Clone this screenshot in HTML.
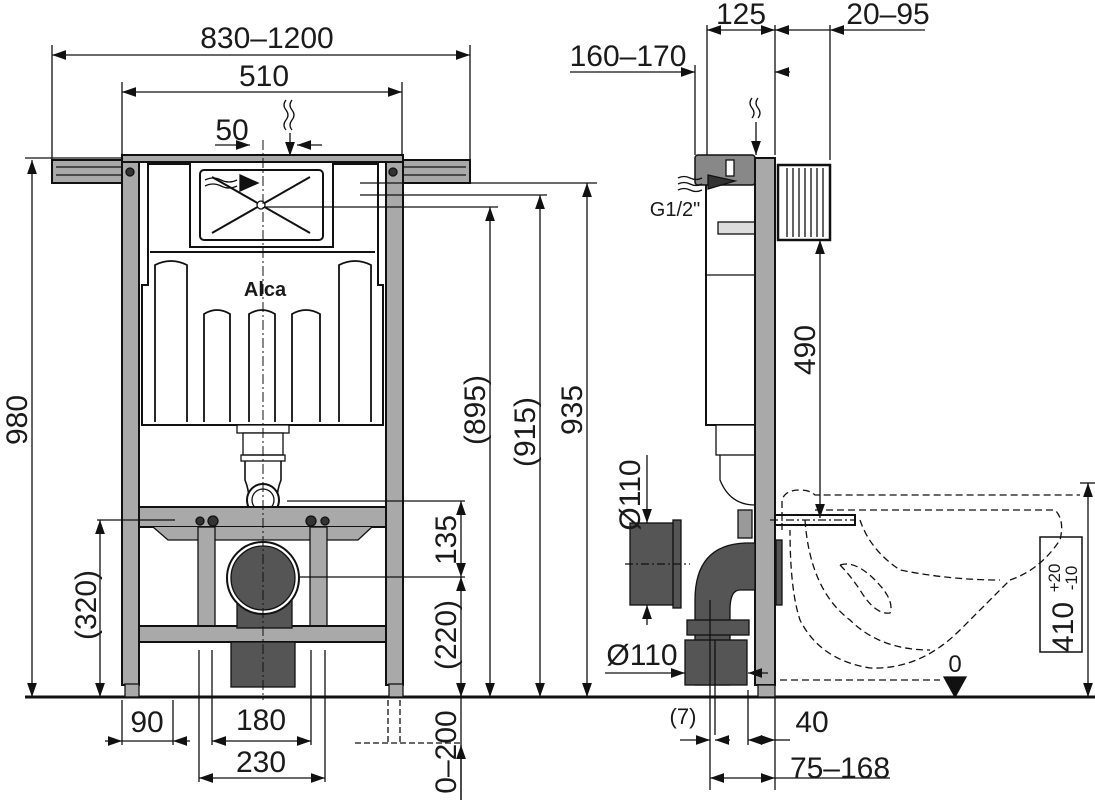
<!DOCTYPE html>
<html><head><meta charset="utf-8"><style>
html,body{margin:0;padding:0;background:#fff;}
svg{display:block}
text{font-family:"Liberation Sans Narrow","Liberation Sans",sans-serif;font-size:30px;fill:#1a1a1a}
</style></head><body>
<svg width="1095" height="800" viewBox="0 0 1095 800" xmlns="http://www.w3.org/2000/svg">
<defs>
<marker id="a" viewBox="0 0 10 10" refX="10" refY="5" markerWidth="14" markerHeight="14" markerUnits="userSpaceOnUse" orient="auto-start-reverse"><path d="M0,1.5 L10,5 L0,8.5 Z" fill="#111"/></marker>
</defs>
<g stroke="#111" stroke-width="1.3" fill="none">
<line x1="25" y1="697" x2="1095" y2="697" stroke-width="3"/>

<rect x="52" y="160" width="70" height="23" fill="#a9a9a9" stroke-width="2"/>
<line x1="56" y1="167" x2="122" y2="167"/><line x1="56" y1="175" x2="122" y2="175"/>
<rect x="402" y="160" width="68" height="23" fill="#a9a9a9" stroke-width="2"/>
<line x1="402" y1="167" x2="466" y2="167"/><line x1="402" y1="175" x2="466" y2="175"/>
<rect x="122" y="157" width="17" height="528" fill="#a9a9a9" stroke-width="2"/>
<rect x="386" y="157" width="17" height="528" fill="#a9a9a9" stroke-width="2"/>
<rect x="122" y="155" width="281" height="7" fill="#a9a9a9" stroke-width="2"/>
<rect x="125" y="684" width="14" height="13" fill="#a9a9a9"/>
<rect x="389" y="684" width="14" height="13" fill="#a9a9a9"/>
<circle cx="130" cy="172" r="4" fill="#333"/><circle cx="393" cy="172" r="4" fill="#333"/>
<path d="M148,164 L378,164 L378,285 L383,285 L383,425 L142,425 L142,285 L148,285 Z" fill="#fff" stroke-width="2"/>
<rect x="190" y="162" width="143" height="85" fill="#fff" stroke-width="2"/>
<rect x="200" y="170" width="123" height="70" rx="4" stroke-width="2"/>
<line x1="212" y1="233" x2="310" y2="177" stroke-width="2"/>
<line x1="212" y1="177" x2="310" y2="233" stroke-width="2"/>
<circle cx="261" cy="205" r="4" fill="#fff"/>
<path d="M240,175 L258,183 L240,191 Z" fill="#111"/>
<path d="M205,180 q8,-4 16,0 q8,4 16,0 M205,186 q8,-4 16,0 q8,4 16,0"/>
<line x1="150" y1="252" x2="375" y2="252" stroke-width="2"/>
<path d="M155,422 V265 q16,-8 32,0 V422 M204,422 V314 q13,-8 26,0 V422 M249,422 V314 q13,-8 26,0 V422 M292,422 V314 q14,-8 28,0 V422 M339,422 V265 q16,-8 32,0 V422" stroke-width="1.8"/>
<rect x="237" y="425" width="52" height="8" fill="#fff"/>
<rect x="243" y="433" width="40" height="22" fill="#fff"/>
<rect x="241" y="455" width="44" height="6"/>
<path d="M245,461 V480 Q249,490 249,500 M281,461 V480 Q277,490 277,500" stroke-width="1.6"/>
<circle cx="263" cy="500" r="16" fill="#fff" stroke-width="2"/>
<circle cx="263" cy="500" r="11"/>
<rect x="139" y="507" width="247" height="20" fill="#a9a9a9" stroke-width="2"/>
<path d="M153,527 L168,540 L358,540 L372,527" fill="#a9a9a9"/>
<rect x="198" y="527" width="17" height="100" fill="#a9a9a9"/>
<rect x="310" y="527" width="17" height="100" fill="#a9a9a9"/>
<rect x="139" y="626" width="247" height="16" fill="#a9a9a9" stroke-width="2"/>
<rect x="231" y="642" width="64" height="45" fill="#555"/>
<rect x="237" y="578" width="55" height="50" fill="#555"/>
<circle cx="263" cy="578" r="36" fill="#fff" stroke-width="2"/>
<circle cx="263" cy="578" r="32" fill="#555"/>
<circle cx="200" cy="521" r="4" fill="#333"/><circle cx="213" cy="521" r="5" fill="#333"/>
<circle cx="311" cy="521" r="5" fill="#333"/><circle cx="325" cy="521" r="4" fill="#333"/>
<line x1="263" y1="140" x2="263" y2="700" stroke-dasharray="10,3,2,3" stroke-width="1"/>
<line x1="52" y1="45" x2="52" y2="160"/><line x1="470" y1="45" x2="470" y2="160"/>
<line x1="52" y1="55" x2="470" y2="55" marker-start="url(#a)" marker-end="url(#a)"/>
<line x1="122" y1="82" x2="122" y2="155"/><line x1="402" y1="82" x2="402" y2="155"/>
<line x1="122" y1="92" x2="402" y2="92" marker-start="url(#a)" marker-end="url(#a)"/>
<line x1="215" y1="145" x2="250" y2="145" marker-end="url(#a)"/>
<line x1="322" y1="145" x2="297" y2="145" marker-end="url(#a)"/>
<path d="M286,100 q-4,5 0,10 q4,5 0,10 q-4,5 0,10 M292,100 q-4,5 0,10 q4,5 0,10 q-4,5 0,10"/>
<line x1="290" y1="133" x2="290" y2="156" marker-end="url(#a)"/>
<line x1="25" y1="158" x2="122" y2="158"/>
<line x1="32" y1="160" x2="32" y2="697" marker-start="url(#a)" marker-end="url(#a)"/>
<line x1="360" y1="183" x2="597" y2="183"/><line x1="360" y1="195" x2="547" y2="195"/><line x1="265" y1="207" x2="498" y2="207"/>
<line x1="490" y1="207" x2="490" y2="697" marker-start="url(#a)" marker-end="url(#a)"/>
<line x1="540" y1="195" x2="540" y2="697" marker-start="url(#a)" marker-end="url(#a)"/>
<line x1="587" y1="183" x2="587" y2="697" marker-start="url(#a)" marker-end="url(#a)"/>
<line x1="97" y1="520" x2="175" y2="520"/>
<line x1="100" y1="520" x2="100" y2="697" marker-start="url(#a)" marker-end="url(#a)"/>
<line x1="287" y1="501" x2="465" y2="501"/><line x1="300" y1="577" x2="465" y2="577"/>
<line x1="461" y1="501" x2="461" y2="577" marker-start="url(#a)" marker-end="url(#a)"/>
<line x1="461" y1="577" x2="461" y2="697" marker-start="url(#a)" marker-end="url(#a)"/>
<line x1="461" y1="697" x2="461" y2="800"/>
<line x1="461" y1="745" x2="461" y2="800" marker-start="url(#a)"/>
<path d="M388,700 V743 M400,700 V743 M355,743 H462" stroke-dasharray="6,3"/>
<line x1="122" y1="700" x2="122" y2="745"/><line x1="173" y1="700" x2="173" y2="745"/>
<line x1="105" y1="741" x2="122" y2="741" marker-end="url(#a)"/><line x1="190" y1="741" x2="173" y2="741" marker-end="url(#a)"/>
<line x1="122" y1="741" x2="173" y2="741"/>
<line x1="212" y1="650" x2="212" y2="745"/><line x1="311" y1="650" x2="311" y2="745"/>
<line x1="212" y1="741" x2="311" y2="741" marker-start="url(#a)" marker-end="url(#a)"/>
<line x1="199" y1="650" x2="199" y2="782"/><line x1="325" y1="650" x2="325" y2="782"/>
<line x1="199" y1="778" x2="325" y2="778" marker-start="url(#a)" marker-end="url(#a)"/>

<rect x="778" y="165" width="52" height="75" fill="#fff" stroke-width="2.5"/>
<path d="M787,168 V237 M793,168 V237 M799,168 V237 M805,168 V237 M811,168 V237 M817,168 V237 M823,168 V237"/>
<rect x="706" y="180" width="49" height="245" fill="#fff" stroke-width="2"/>
<line x1="706" y1="275" x2="755" y2="275"/>
<rect x="695" y="155" width="60" height="30" rx="3" fill="#888" stroke-width="1.5"/>
<rect x="726" y="160" width="8" height="16" fill="#fff"/>
<path d="M708,175 L735,181 L708,189 Z" fill="#333"/>
<path d="M678,178 q6,-3 12,0 q6,3 12,0 M678,184 q6,-3 12,0 q6,3 12,0 M678,190 q6,-3 12,0 q6,3 12,0"/>
<rect x="718" y="222" width="37" height="12" fill="#ddd"/>
<rect x="716" y="425" width="39" height="30" fill="#fff"/>
<path d="M720,455 V480 Q730,505 755,505"/>
<rect x="755" y="158" width="20" height="527" fill="#a9a9a9" stroke-width="2"/>
<rect x="758" y="685" width="17" height="12" fill="#a9a9a9"/>
<rect x="775" y="515" width="80" height="10" fill="#fff" stroke-width="2"/>
<line x1="770" y1="520" x2="855" y2="520" stroke-dasharray="8,3,2,3"/>
<path d="M695,685 V600 Q695,545 745,543 L755,543 V590 L740,590 Q730,590 730,610 V685 Z" fill="#555"/>
<rect x="687" y="620" width="62" height="15" fill="#555"/>
<rect x="685" y="640" width="62" height="45" fill="#555"/>
<rect x="630" y="523" width="45" height="82" fill="#555"/>
<rect x="673" y="520" width="8" height="88" fill="#555"/>
<rect x="738" y="510" width="14" height="28" fill="#999"/>
<rect x="776" y="540" width="6" height="65" fill="#555"/>
<g stroke-dasharray="7,4">
<path d="M780,680 H940"/>
<path d="M782,530 V500 Q785,490 800,490 Q810,490 815,495 H1080"/>
<path d="M815,510 H1055 Q1065,520 1060,540 Q1040,570 1010,580 Q990,600 960,630 Q920,670 870,668 Q820,660 800,620 Q790,590 790,530"/>
<path d="M805,520 Q810,590 850,620 Q880,650 930,650"/>
<path d="M860,520 Q870,550 900,570 Q950,580 1000,580"/>
<path d="M840,565 Q850,575 860,590 Q875,615 890,613 Q895,600 875,580 Q855,560 840,565 Z"/>
</g>
<line x1="707" y1="25" x2="707" y2="155"/><line x1="775" y1="25" x2="775" y2="155"/><line x1="830" y1="25" x2="830" y2="160"/>
<line x1="695" y1="65" x2="695" y2="155"/>
<line x1="707" y1="30" x2="775" y2="30" marker-start="url(#a)" marker-end="url(#a)"/>
<line x1="775" y1="30" x2="830" y2="30" marker-start="url(#a)"/>
<line x1="830" y1="30" x2="925" y2="30" marker-start="url(#a)"/>
<line x1="570" y1="72" x2="695" y2="72" marker-end="url(#a)"/>
<line x1="790" y1="72" x2="775" y2="72" marker-end="url(#a)"/>
<path d="M752,98 q-4,5 0,10 q4,5 0,10 M758,98 q-4,5 0,10 q4,5 0,10"/>
<line x1="756" y1="122" x2="756" y2="155" marker-end="url(#a)"/>
<line x1="820" y1="240" x2="820" y2="518" marker-start="url(#a)" marker-end="url(#a)"/>
<line x1="647" y1="455" x2="647" y2="523" marker-end="url(#a)"/>
<line x1="647" y1="625" x2="647" y2="605" marker-end="url(#a)"/>
<line x1="625" y1="564" x2="690" y2="564" stroke-dasharray="8,3,2,3"/>
<line x1="605" y1="673" x2="685" y2="673" marker-end="url(#a)"/>
<line x1="768" y1="673" x2="748" y2="673" marker-end="url(#a)"/>
<line x1="1080" y1="483" x2="1095" y2="483"/>
<line x1="1088" y1="483" x2="1088" y2="697" marker-start="url(#a)" marker-end="url(#a)"/>
<rect x="1040" y="537" width="42" height="115" stroke-width="1.5"/>
<path d="M944,677 H966 L955,697 Z" fill="#111"/>
<line x1="710" y1="600" x2="710" y2="790"/><line x1="715" y1="640" x2="715" y2="735"/>
<line x1="748" y1="690" x2="748" y2="745"/><line x1="775" y1="697" x2="775" y2="790"/>
<line x1="680" y1="740" x2="710" y2="740" marker-end="url(#a)"/>
<line x1="730" y1="740" x2="715" y2="740" marker-end="url(#a)"/>
<line x1="748" y1="740" x2="775" y2="740" marker-start="url(#a)" marker-end="url(#a)"/>
<line x1="775" y1="740" x2="790" y2="740"/>
<line x1="710" y1="778" x2="775" y2="778" marker-start="url(#a)" marker-end="url(#a)"/>
<line x1="775" y1="778" x2="890" y2="778"/>
</g>
<text x="267" y="48" text-anchor="middle">830–1200</text>
<text x="264" y="86" text-anchor="middle">510</text>
<text x="232" y="140" text-anchor="middle">50</text>
<text x="265" y="296" text-anchor="middle" style="font-size:20px;font-family:'Liberation Sans',sans-serif;font-weight:bold">Alca</text>
<text transform="translate(27,420) rotate(-90)" text-anchor="middle">980</text>
<text transform="translate(485,410) rotate(-90)" text-anchor="middle">(895)</text>
<text transform="translate(535,432) rotate(-90)" text-anchor="middle">(915)</text>
<text transform="translate(582,410) rotate(-90)" text-anchor="middle">935</text>
<text transform="translate(96,605) rotate(-90)" text-anchor="middle">(320)</text>
<text transform="translate(456,540) rotate(-90)" text-anchor="middle">135</text>
<text transform="translate(456,635) rotate(-90)" text-anchor="middle">(220)</text>
<text transform="translate(456,752) rotate(-90)" text-anchor="middle">0–200</text>
<text x="147" y="732" text-anchor="middle">90</text>
<text x="261" y="730" text-anchor="middle">180</text>
<text x="261" y="772" text-anchor="middle">230</text>
<text x="741" y="24" text-anchor="middle">125</text>
<text x="888" y="24" text-anchor="middle">20–95</text>
<text x="628" y="66" text-anchor="middle">160–170</text>
<text x="675" y="216" text-anchor="middle" style="font-size:20px">G1/2"</text>
<text transform="translate(815,350) rotate(-90)" text-anchor="middle">490</text>
<text transform="translate(640,495) rotate(-90)" text-anchor="middle">Ø110</text>
<text x="642" y="665" text-anchor="middle">Ø110</text>
<text x="955" y="672" text-anchor="middle" style="font-size:24px">0</text>
<text transform="translate(1073,627) rotate(-90)" text-anchor="middle">410</text>
<text transform="translate(1060,578) rotate(-90)" text-anchor="middle" style="font-size:17px">+20</text>
<text transform="translate(1077,578) rotate(-90)" text-anchor="middle" style="font-size:17px">-10</text>
<text x="683" y="724" text-anchor="middle" style="font-size:22px">(7)</text>
<text x="812" y="732" text-anchor="middle">40</text>
<text x="840" y="778" text-anchor="middle">75–168</text>
</svg>
</body></html>
